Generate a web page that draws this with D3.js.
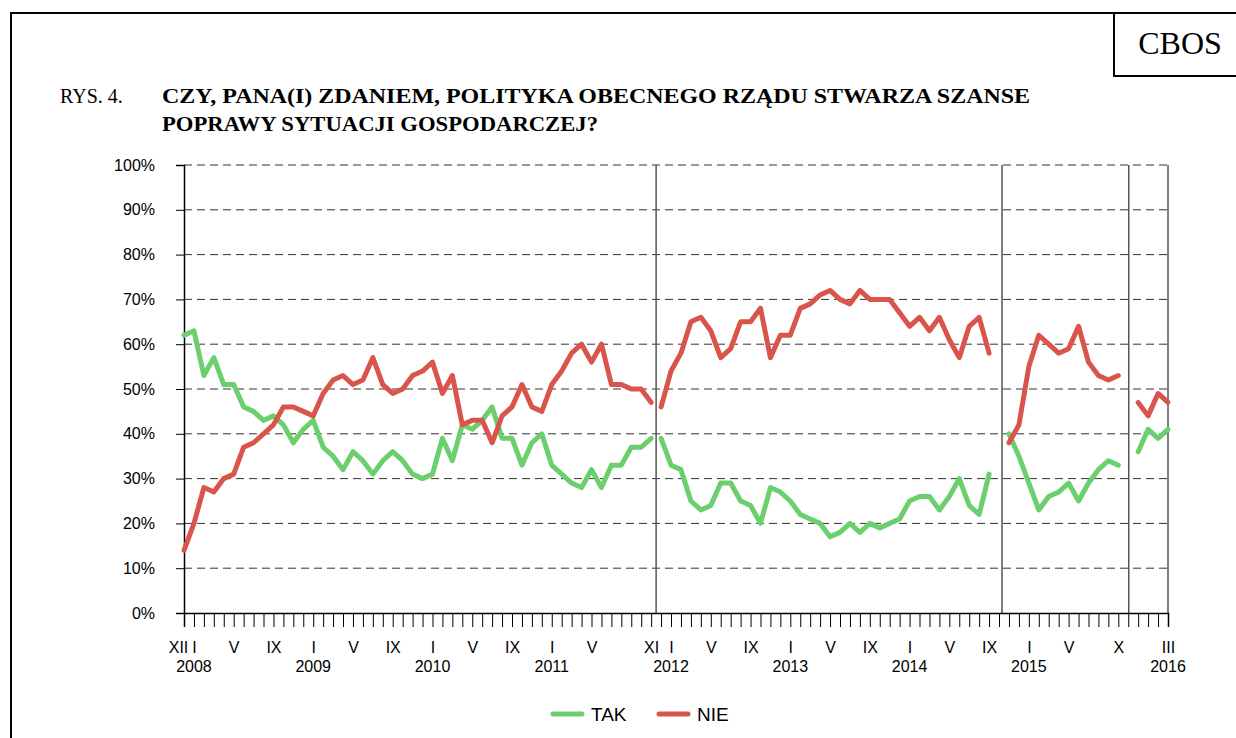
<!DOCTYPE html>
<html lang="pl">
<head>
<meta charset="UTF-8">
<title>CBOS - Rys. 4</title>
<script src="https://d3js.org/d3.v7.min.js"></script>
<style>
  body { margin: 0; background: #fff; }
  svg text { fill: #000; }
  .axis text { font-family: "Liberation Sans", Arial, sans-serif; font-size: 16px; }
  .serif { font-family: "Liberation Serif", "Times New Roman", serif; }
</style>
</head>
<body>
<div id="chart"></div>
<script>
// survey months XII 2007 .. III 2016 (one value per month, null = no survey)
var roman = ["I","II","III","IV","V","VI","VII","VIII","IX","X","XI","XII"];
var months = [];
for (var yr = 2007; yr <= 2016; yr++) {
  for (var m = 0; m < 12; m++) {
    if (yr === 2007 && m < 11) continue;
    if (yr === 2016 && m > 2) break;
    months.push(roman[m] + " " + yr);
  }
}

var tak = [62,63,53,57,51,51,46,45,43,44,42,38,41,43,37,35,32,36,34,31,34,36,34,31,30,31,39,34,42,41,43,46,39,39,33,38,40,33,31,29,28,32,28,33,33,37,37,39,
           39,33,32,25,23,24,29,29,25,24,20,28,27,25,22,21,20,17,18,20,18,20,19,20,21,25,26,26,23,26,30,24,22,31,
           null,
           40,35,29,23,26,27,29,25,29,32,34,33,
           null,
           36,41,39,41];
var nie = [14,20,28,27,30,31,37,38,40,42,46,46,45,44,49,52,53,51,52,57,51,49,50,53,54,56,49,53,42,43,43,38,44,46,51,46,45,51,54,58,60,56,60,51,51,50,50,47,
           46,54,58,65,66,63,57,59,65,65,68,57,62,62,68,69,71,72,70,69,72,70,70,70,67,64,66,63,66,61,57,64,66,58,
           null,
           38,42,55,62,60,58,59,64,56,53,52,53,
           null,
           47,44,49,47];

var monthTicks = ["XII 2007","I 2008","V 2008","IX 2008","I 2009","V 2009","IX 2009","I 2010","V 2010","IX 2010",
                  "I 2011","V 2011","XI 2011","I 2012","V 2012","IX 2012","I 2013","V 2013","IX 2013",
                  "I 2014","V 2014","IX 2014","I 2015","V 2015","X 2015","III 2016"];
var yearTicks = ["I 2008","I 2009","I 2010","I 2011","I 2012","I 2013","I 2014","I 2015","III 2016"];
var yTicks = [0,10,20,30,40,50,60,70,80,90,100];
// first month of each government's series
var segmentStarts = ["XII 2007","XII 2011","XI 2014","XII 2015"];
// government changes, as positions between months
var separators = [47.5, 82.3, 95.05];

var series = [
  {name: "TAK", values: tak, color: "#6ccf6e"},
  {name: "NIE", values: nie, color: "#d9554c"}
];

var W = 1236, H = 738;
var svg = d3.select("#chart").append("svg")
    .attr("width", W)
    .attr("height", H);

// page frame + CBOS box
svg.append("path")
    .attr("d", "M 11 738 L 11 13 L 1236 13")
    .attr("fill", "none").attr("stroke", "#000").attr("stroke-width", 2);
svg.append("path")
    .attr("d", "M 1114 13 L 1114 76 L 1236 76")
    .attr("fill", "none").attr("stroke", "#000").attr("stroke-width", 2);
svg.append("text").attr("class", "serif")
    .attr("x", 1180).attr("y", 54)
    .attr("text-anchor", "middle")
    .style("font-size", "32px")
    .text("CBOS");

// title
svg.append("text").attr("class", "serif")
    .attr("x", 60).attr("y", 103)
    .style("font-size", "20px")
    .text("RYS. 4.");
svg.append("text").attr("class", "serif")
    .attr("x", 162).attr("y", 103)
    .style("font-size", "20px").style("font-weight", "bold")
    .attr("textLength", 868).attr("lengthAdjust", "spacingAndGlyphs")
    .text("CZY, PANA(I) ZDANIEM, POLITYKA OBECNEGO RZĄDU STWARZA SZANSE");
svg.append("text").attr("class", "serif")
    .attr("x", 162).attr("y", 131)
    .style("font-size", "20px").style("font-weight", "bold")
    .attr("textLength", 436).attr("lengthAdjust", "spacingAndGlyphs")
    .text("POPRAWY SYTUACJI GOSPODARCZEJ?");

var x = d3.scalePoint().domain(months).range([184, 1168]);
var y = d3.scaleLinear().domain([0, 100]).range([613, 165]);
var xi = d3.scaleLinear().domain([0, months.length - 1]).range([184, 1168]);

// dashed gridlines
svg.append("g")
  .selectAll("line")
  .data(yTicks.filter(function(d) { return d > 0; }))
  .enter().append("line")
    .attr("x1", 184).attr("x2", 1168)
    .attr("y1", function(d) { return y(d); })
    .attr("y2", function(d) { return y(d); })
    .attr("stroke", "#333")
    .attr("stroke-width", 1)
    .attr("stroke-dasharray", "8,5");

// separators
svg.append("g")
  .selectAll("line")
  .data(separators)
  .enter().append("line")
    .attr("x1", function(d) { return xi(d); })
    .attr("x2", function(d) { return xi(d); })
    .attr("y1", y(100)).attr("y2", y(0))
    .attr("stroke", "#555")
    .attr("stroke-width", 1.5);
svg.append("line")
    .attr("x1", 1168).attr("x2", 1168)
    .attr("y1", y(100)).attr("y2", y(0))
    .attr("stroke", "#000").attr("stroke-width", 1);

// y axis
var yAxis = svg.append("g").attr("class", "axis")
    .attr("transform", "translate(184,0)")
    .call(d3.axisLeft(y).tickValues(yTicks).tickSize(8).tickPadding(21)
      .tickFormat(function(d) { return d + "%"; }));
yAxis.select(".domain").attr("stroke", "#000").attr("stroke-width", 1.5);

// x axis, one tick per month
var xAxis = svg.append("g").attr("class", "axis")
    .attr("transform", "translate(0,613)")
    .call(d3.axisBottom(x).tickSize(14).tickPadding(15)
      .tickFormat(function(d) { return monthTicks.indexOf(d) >= 0 ? d.split(" ")[0] : ""; }));
xAxis.select(".domain").attr("stroke", "#000").attr("stroke-width", 1.5);
xAxis.selectAll(".tick text").attr("dy", "0.71em");
xAxis.selectAll(".tick").filter(function(d) { return d === "XII 2007"; })
    .select("text").attr("dx", -6);

svg.append("g").attr("class", "axis")
  .selectAll("text")
  .data(yearTicks)
  .enter().append("text")
    .attr("x", function(d) { return x(d); })
    .attr("y", 672)
    .attr("text-anchor", "middle")
    .text(function(d) { return d.split(" ")[1]; });

// lines: one path per government period
var line = d3.line()
    .defined(function(d) { return d.v != null; })
    .x(function(d) { return x(d.m); })
    .y(function(d) { return y(d.v); });

function segments(values) {
  var out = [];
  values.forEach(function(v, i) {
    if (segmentStarts.indexOf(months[i]) >= 0) out.push([]);
    out[out.length - 1].push({m: months[i], v: v});
  });
  return out;
}

var lines = svg.append("g")
  .selectAll("g")
  .data(series)
  .enter().append("g");
lines.selectAll("path")
  .data(function(s) { return segments(s.values).map(function(seg) { return {color: s.color, pts: seg}; }); })
  .enter().append("path")
    .attr("d", function(d) { return line(d.pts); })
    .attr("fill", "none")
    .attr("stroke", function(d) { return d.color; })
    .attr("stroke-width", 5)
    .attr("stroke-linejoin", "round")
    .attr("stroke-linecap", "round");

// legend
var legend = svg.append("g")
  .selectAll("g")
  .data(series)
  .enter().append("g")
    .attr("transform", function(d, i) { return "translate(" + (553 + i * 106) + ",714)"; });
legend.append("line")
    .attr("x1", 0).attr("x2", 29)
    .attr("stroke", function(d) { return d.color; })
    .attr("stroke-width", 5)
    .attr("stroke-linecap", "round");
legend.append("text")
    .attr("x", 38).attr("y", 7)
    .style("font-family", "'Liberation Sans', Arial, sans-serif")
    .style("font-size", "19px")
    .text(function(d) { return d.name; });
</script>
</body>
</html>
